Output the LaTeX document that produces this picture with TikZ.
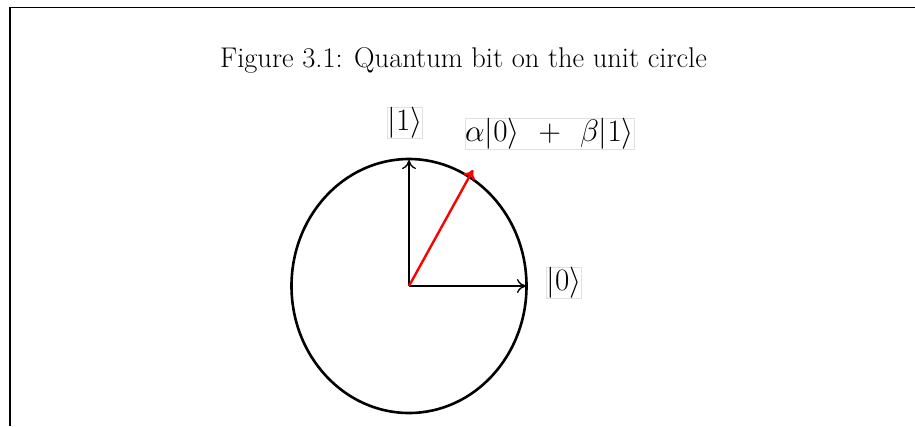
\documentclass[tikz,border=0pt]{standalone}
\usepackage{amsmath}
\usetikzlibrary{arrows.meta}
\tikzset{
  ket/.style={inner sep=0pt, draw=black!12, line width=0.4pt, scale=1.5, font=\huge},
  vec/.style={-{To[length=9pt,width=14pt]}, line width=1.3pt},
}
\begin{document}
\begin{tikzpicture}[x=1pt,y=-1pt]
\useasboundingbox (0,0) rectangle (915,426);
% frame
\draw[line width=1.4pt] (10,426) -- (10,7.5) -- (915,7.5);
\node[scale=1.374, font=\huge] (caption) at (463.5,60) {Figure 3.1: Quantum bit on the unit circle};
% unit circle
\coordinate (O) at (409,286);
\draw[line width=2.6pt] (O) ellipse [x radius=117.5, y radius=127];
\coordinate (e0) at (526,286);
\coordinate (e1) at (409,160);
\coordinate (psi) at (473,170);
\draw[vec] (O) -- (e0);
\draw[vec] (O) -- (e1);
\draw[red, line width=2.4pt, -{To[length=9pt,width=13pt,line width=2.4pt]}] (O) -- (psi);
\node[ket] (ket0) at (564,282.5) {$|0\rangle$};
\node[ket] (ket1) at (405,122.5) {$|1\rangle$};
\node[ket] (state) at (549.5,133.5) {$\alpha|0\rangle\mkern7mu+\mkern7mu\beta|1\rangle$};
\end{tikzpicture}
\end{document}
